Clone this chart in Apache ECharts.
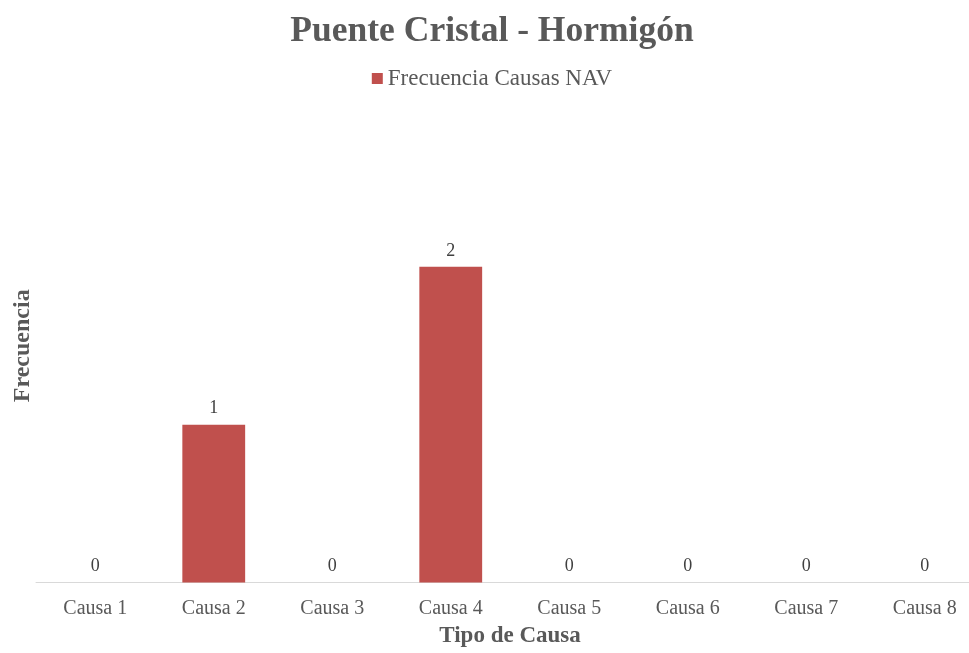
<!DOCTYPE html>
<html>
<head>
<meta charset="utf-8">
<script src="https://cdn.jsdelivr.net/npm/echarts@6/dist/echarts.min.js"></script>
<style>
  html, body { margin: 0; padding: 0; background: #fff; overflow: hidden; }
  #wrap { width: 969px; height: 653px; overflow: hidden; position: relative; }
  #chart { position: absolute; left: 0; top: 0; width: 984px; height: 653px; }
</style>
</head>
<body>
<div id="wrap"><div id="chart"></div></div>
<script>
// Data
const categories = ['Causa 1', 'Causa 2', 'Causa 3', 'Causa 4', 'Causa 5', 'Causa 6', 'Causa 7', 'Causa 8'];
const frecuencia = [0, 1, 0, 2, 0, 0, 0, 0];

const font = '"Liberation Serif", "Times New Roman", serif';
const textColor = '#595959';

// chart area is a bit wider than the window, the right edge gets cut like in the source
const chart = echarts.init(document.getElementById('chart'));

chart.setOption({
  textStyle: { fontFamily: font },
  title: {
    text: 'Puente Cristal - Hormigón',
    left: 'center',
    top: 9,
    textStyle: {
      fontFamily: font,
      fontSize: 35.5,
      fontWeight: 'bold',
      color: textColor
    }
  },
  legend: {
    data: ['Frecuencia Causas NAV'],
    top: 62,
    left: 'center',
    icon: 'rect',
    itemWidth: 11,
    itemHeight: 11,
    itemGap: 6,
    textStyle: {
      fontFamily: font,
      fontSize: 23,
      color: textColor
    }
  },
  grid: {
    left: 36,
    right: 0,
    top: 109,
    bottom: 67
  },
  xAxis: {
    type: 'category',
    data: categories,
    name: 'Tipo de Causa',
    nameLocation: 'middle',
    nameGap: 42.5,
    nameTextStyle: {
      fontFamily: font,
      fontSize: 23,
      fontWeight: 'bold',
      color: textColor
    },
    axisLine: { lineStyle: { color: '#D9D9D9', width: 1 } },
    axisTick: { show: false },
    axisLabel: {
      margin: 16,
      fontFamily: font,
      fontSize: 20,
      color: textColor
    }
  },
  yAxis: {
    type: 'value',
    min: 0,
    max: 3,
    interval: 1,
    name: 'Frecuencia',
    nameLocation: 'middle',
    nameGap: 1.5,
    nameTextStyle: {
      fontFamily: font,
      fontSize: 24,
      fontWeight: 'bold',
      color: textColor
    },
    axisLine: { show: false },
    axisTick: { show: false },
    axisLabel: { show: false },
    splitLine: { show: false }
  },
  series: [
    {
      name: 'Frecuencia Causas NAV',
      type: 'bar',
      data: frecuencia,
      barWidth: '53%',
      itemStyle: { color: '#C0504D' },
      label: {
        show: true,
        position: 'top',
        distance: 7,
        fontFamily: font,
        fontSize: 18,
        color: '#404040'
      }
    }
  ]
});
</script>
</body>
</html>
